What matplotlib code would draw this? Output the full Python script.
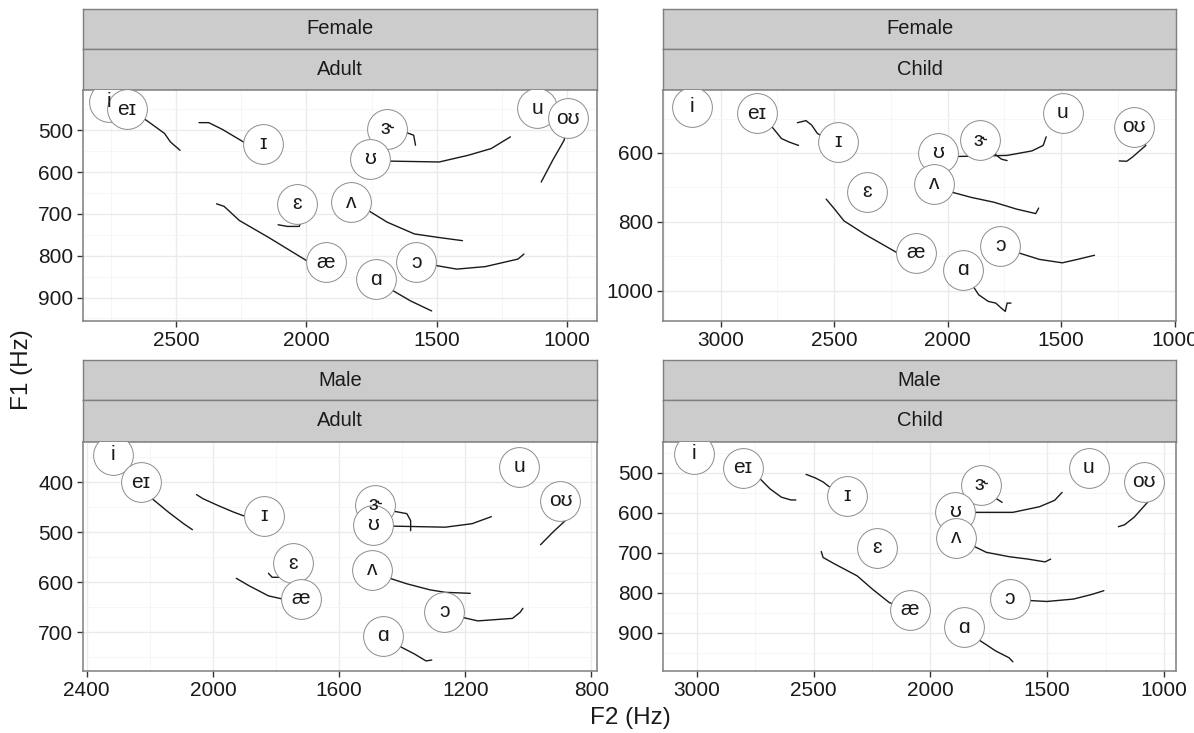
import matplotlib
matplotlib.use("Agg")
import matplotlib.pyplot as plt
import numpy as np

plt.rcParams['font.family'] = ['Liberation Sans', 'DejaVu Sans']

# ---------------- data ----------------
vowels = ["i", "eɪ", "ɪ", "ɛ", "æ", "ɑ", "ɔ", "u", "oʊ", "ɝ", "ʊ", "ʌ"]

sex_labels = ["Female", "Female", "Male", "Male"]
age_labels = ["Adult", "Child", "Adult", "Child"]

# label (onset) positions per panel
fa_f2 = [2758, 2690, 2168, 2036, 1925, 1734, 1579, 1115, 997, 1690, 1756, 1830]
fa_f1 = [432, 450, 532, 676, 816, 856, 816, 448, 472, 496, 568, 672]
fc_f2 = [3125, 2841, 2485, 2355, 2139, 1933, 1768, 1492, 1178, 1858, 2042, 2059]
fc_f1 = [465, 485, 568, 712, 890, 939, 870, 483, 524, 563, 600, 690]
ma_f2 = [2316, 2229, 1839, 1745, 1721, 1461, 1266, 1029, 898, 1485, 1493, 1495]
ma_f1 = [345, 400, 467, 562, 633, 707, 659, 369, 437, 445, 485, 575]
mc_f2 = [3013, 2805, 2359, 2228, 2089, 1855, 1659, 1322, 1086, 1785, 1896, 1891]
mc_f1 = [452, 487, 557, 687, 843, 887, 815, 488, 523, 530, 597, 662]

# trajectories (continuing from label point), same vowel order
fa_trk_f2 = [[], [2633, 2588, 2544, 2522, 2485], [2242, 2323, 2375, 2412],
             [2021, 2028, 2073, 2109], [1999, 2146, 2257, 2316, 2345],
             [1667, 1601, 1520], [1498, 1424, 1314, 1189, 1166], [],
             [1012, 1056, 1100], [1616, 1589, 1582],
             [1675, 1491, 1380, 1292, 1218], [1763, 1690, 1586, 1498, 1402]]
fa_trk_f1 = [[], [468, 488, 508, 528, 548], [528, 498, 482, 482],
             [720, 730, 730, 726], [812, 756, 716, 682, 676],
             [884, 908, 932], [824, 832, 826, 808, 796], [],
             [524, 572, 624], [506, 512, 536],
             [574, 576, 560, 544, 516], [692, 720, 748, 756, 764]]

fc_trk_f2 = [[], [2774, 2732, 2699, 2657], [2549, 2574, 2599, 2624, 2662], [],
             [2222, 2365, 2457, 2498, 2535],
             [1888, 1863, 1821, 1788, 1763, 1746, 1738, 1721],
             [1688, 1596, 1495, 1428, 1353], [], [1127, 1186, 1211, 1244],
             [1788, 1763, 1738], [1950, 1738, 1629, 1579, 1566],
             [1980, 1896, 1796, 1696, 1612, 1599]]
fc_trk_f1 = [[], [524, 558, 568, 578], [553, 543, 519, 506, 512], [],
             [890, 836, 797, 763, 734],
             [987, 1012, 1031, 1036, 1051, 1060, 1036, 1036],
             [890, 909, 919, 909, 897], [], [578, 612, 624, 623],
             [605, 618, 622], [610, 607, 594, 578, 553],
             [714, 729, 743, 763, 776, 760]]

ma_trk_f2 = [[], [2193, 2141, 2093, 2065], [1904, 1934, 1983, 2032, 2052],
             [1788, 1812, 1824], [1782, 1824, 1885, 1926],
             [1404, 1361, 1324, 1306], [1202, 1160, 1050, 1026, 1017], [],
             [876, 922, 961], [1428, 1385, 1373, 1373],
             [1422, 1263, 1178, 1117], [1434, 1385, 1312, 1263, 1184]]
ma_trk_f1 = [[], [433, 460, 483, 495], [467, 460, 447, 433, 425],
             [590, 590, 582], [633, 627, 607, 592],
             [729, 743, 757, 755], [671, 677, 672, 660, 652], [],
             [473, 500, 525], [458, 463, 477, 497],
             [488, 490, 483, 469], [593, 603, 615, 620, 622]]

mc_trk_f2 = [[], [2737, 2688, 2639, 2598, 2577], [2436, 2460, 2493, 2533], [],
             [2176, 2249, 2314, 2411, 2460, 2468],
             [1785, 1720, 1663, 1647], [1566, 1501, 1387, 1306, 1257], [],
             [1070, 1127, 1168, 1195], [1728, 1693],
             [1810, 1647, 1533, 1468, 1436],
             [1810, 1761, 1663, 1582, 1509, 1485]]
mc_trk_f1 = [[], [511, 540, 561, 568, 568], [534, 523, 513, 504], [],
             [825, 791, 758, 728, 712, 697],
             [921, 946, 963, 973], [820, 822, 816, 804, 795], [],
             [574, 611, 630, 635], [561, 574],
             [599, 599, 585, 569, 549],
             [685, 699, 710, 716, 723, 716]]

# axis ticks per panel
fa_xticks = [2500, 2000, 1500, 1000]
fa_yticks = [500, 600, 700, 800, 900]
fc_xticks = [3000, 2500, 2000, 1500, 1000]
fc_yticks = [600, 800, 1000]
ma_xticks = [2400, 2000, 1600, 1200, 800]
ma_yticks = [400, 500, 600, 700]
mc_xticks = [3000, 2500, 2000, 1500, 1000]
mc_yticks = [500, 600, 700, 800, 900]

# axis limits (reversed)
fa_xlim, fa_ylim = (2857, 886), (956, 404)
fc_xlim, fc_ylim = (3254, 994), (1088, 417)
ma_xlim, ma_ylim = (2412, 782), (777, 320)
mc_xlim, mc_ylim = (3146, 948), (996, 423)

# ---------------- drawing ----------------
W, H = 1194, 733
fig = plt.figure(figsize=(W / 100, H / 100), dpi=100)
fig.patch.set_facecolor('white')


def rect(l, t, r, b):
    return [l / W, 1 - b / H, (r - l) / W, (b - t) / H]


BORDER = '#7F7F7F'
STRIP = '#CCCCCC'

panels = [
    (fa_f2, fa_f1, fa_trk_f2, fa_trk_f1, fa_xticks, fa_yticks, fa_xlim, fa_ylim),
    (fc_f2, fc_f1, fc_trk_f2, fc_trk_f1, fc_xticks, fc_yticks, fc_xlim, fc_ylim),
    (ma_f2, ma_f1, ma_trk_f2, ma_trk_f1, ma_xticks, ma_yticks, ma_xlim, ma_ylim),
    (mc_f2, mc_f1, mc_trk_f2, mc_trk_f1, mc_xticks, mc_yticks, mc_xlim, mc_ylim),
]
cols = [(83, 597), (663, 1176)]
rows = [(9, 49, 90, 321), (360, 400, 442, 671)]


def minor_from(ticks):
    t = np.array(ticks, dtype=float)
    step = t[1] - t[0]
    return list(np.concatenate([[t[0] - step / 2], (t[:-1] + t[1:]) / 2, [t[-1] + step / 2]]))


for k, (lf2, lf1, tf2, tf1, xt, yt, xl, yl) in enumerate(panels):
    l, r = cols[k % 2]
    s_top, s_mid, p_top, p_bot = rows[k // 2]

    # strips
    for (t0, t1, txt) in [(s_top, s_mid, sex_labels[k]), (s_mid, p_top, age_labels[k])]:
        sa = fig.add_axes(rect(l, t0, r, t1))
        sa.set_facecolor(STRIP)
        sa.set_xticks([]); sa.set_yticks([])
        for sp in sa.spines.values():
            sp.set_color(BORDER); sp.set_linewidth(1.0)
        sa.text(0.5, 0.5, txt, ha='center', va='center', fontsize=14.5,
                color='#1a1a1a', transform=sa.transAxes)

    ax = fig.add_axes(rect(l, p_top, r, p_bot))
    ax.set_facecolor('white')
    ax.set_xticks(xt); ax.set_yticks(yt)
    ax.set_xticks(minor_from(xt), minor=True)
    ax.set_yticks(minor_from(yt), minor=True)
    ax.set_xlim(*xl); ax.set_ylim(*yl)
    ax.grid(which='major', color='#EBEBEB', lw=1.0)
    ax.grid(which='minor', color='#F5F5F5', lw=0.6)
    ax.set_axisbelow(True)
    ax.tick_params(which='major', direction='out', length=4, width=1,
                   color='#333333', labelsize=15, labelcolor='#1a1a1a', pad=3)
    ax.tick_params(which='minor', length=0)
    for sp in ax.spines.values():
        sp.set_color(BORDER); sp.set_linewidth(1.1)

    # path layer
    for j, v in enumerate(vowels):
        xs = [lf2[j]] + list(tf2[j])
        ys = [lf1[j]] + list(tf1[j])
        if len(xs) > 1:
            ax.plot(xs, ys, color='#1a1a1a', lw=1.0, zorder=2,
                    solid_capstyle='round')
    # point layer (all circles), then text layer (all labels)
    ax.scatter(lf2, lf1, s=820, facecolor='white', edgecolor='#8c8c8c',
               linewidth=0.7, zorder=5)
    for j, v in enumerate(vowels):
        ax.text(lf2[j], lf1[j], v, ha='center', va='center', fontsize=15,
                color='#1a1a1a', zorder=10, clip_on=True)

fig.text(22 / W, 1 - 370 / H, 'F1 (Hz)', rotation=90, ha='center',
         va='center', fontsize=17.5, color='#1a1a1a')
fig.text(630 / W, 1 - 718 / H, 'F2 (Hz)', ha='center', va='center',
         fontsize=17.5, color='#1a1a1a')

fig.savefig('out.png', dpi=100, facecolor='white')
